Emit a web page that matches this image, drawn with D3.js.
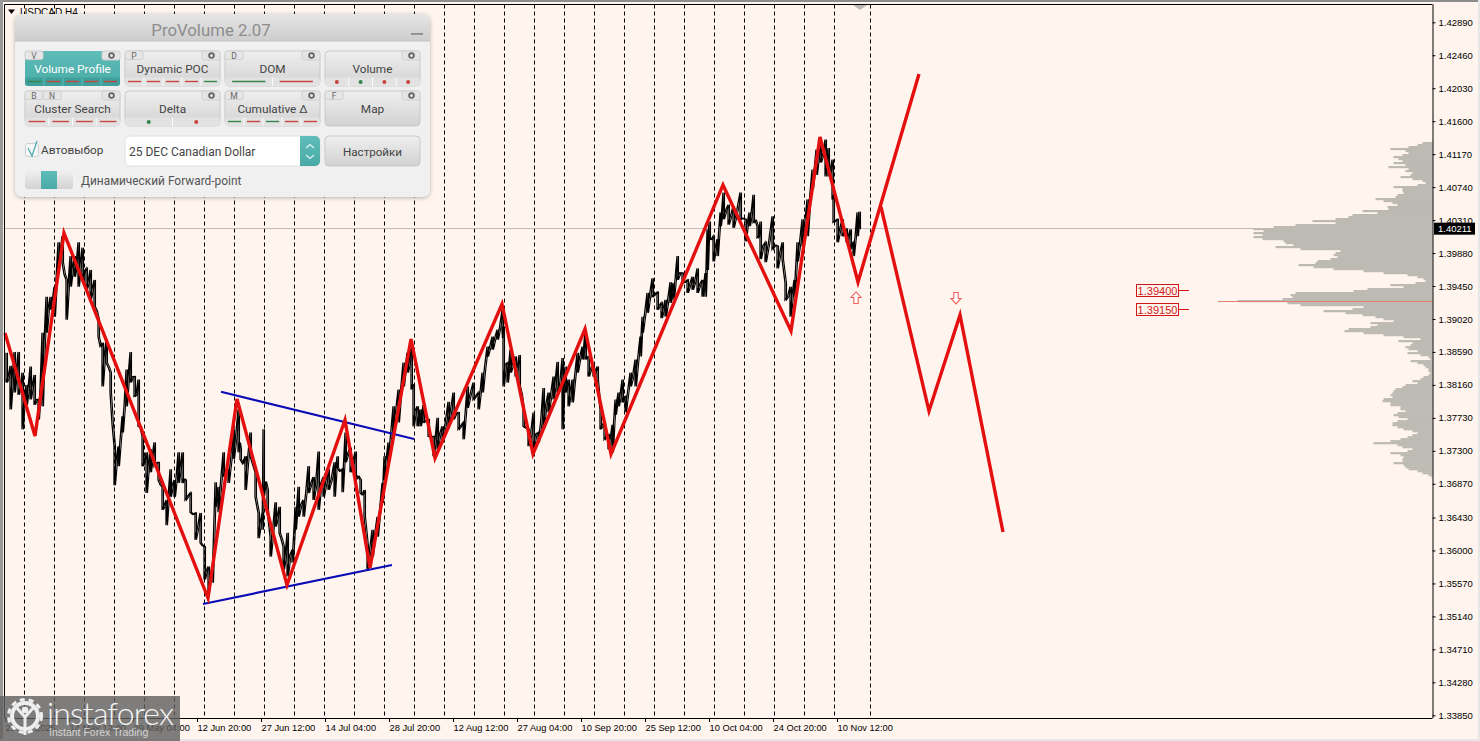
<!DOCTYPE html>
<html>
  <head>
    <title>USDCAD,H4</title>
    <script src="https://d3js.org/d3.v7.min.js"></script>
    <style>
      body { margin: 0; background: #fff5ee; overflow: hidden; }
      text { font-family: "Liberation Sans", Arial, sans-serif; }
      .panel text { font-family: Roboto, sans-serif; }
    </style>
  </head>
  <body>
    <svg width="1480" height="741" id="mainsvg" style="display: block;"></svg>
    <script>
      const priceTicks = [1.42890, 1.42460, 1.42030, 1.41600, 1.41170, 1.40740, 1.40310, 1.39880, 1.39450, 1.39020, 1.38590,
        1.38160, 1.37730, 1.37300, 1.36870, 1.36430, 1.36000, 1.35570, 1.35140, 1.34710, 1.34280, 1.33850];
      const timeTickBars = [0, 64, 128, 192, 256, 320, 384, 448, 512, 576, 640, 704, 768, 832];
      const timeTickLabels = ['29 Apr 2025', '14 May 12:00', '29 May 04:00', '12 Jun 20:00', '27 Jun 12:00', '14 Jul 04:00', '28 Jul 20:00',
        '12 Aug 12:00', '27 Aug 04:00', '10 Sep 20:00', '25 Sep 12:00', '10 Oct 04:00', '24 Oct 20:00', '10 Nov 12:00'];
      const separatorBars = [19, 49, 79, 109, 139, 169, 199, 229, 259, 289, 319, 349, 379, 409, 439, 469, 499, 529, 559, 589, 619, 649, 679, 709, 739, 769, 799, 829, 865];

      // price band, bar number / high / low
      const bars = [1, 5, 9, 13, 17, 21, 25, 29, 33, 37, 41, 45, 49, 53, 57, 61, 65, 69, 73, 77, 81, 85, 89, 93, 97, 101, 105, 109, 113, 117, 121, 125, 129, 133, 137, 141, 145, 149, 153, 157, 161, 165, 169, 173,
        177, 180, 185, 190, 195, 199, 203, 207, 210, 213, 218, 223, 228, 233, 235, 240, 245, 250, 253, 257, 258, 262, 265, 270, 274, 278, 282, 287, 290, 293, 298, 303, 308, 313, 318, 323, 329, 332, 337, 340, 345, 350, 355, 359, 362, 367, 372, 377, 379, 383, 388, 393, 398, 402, 406, 408, 412, 415, 418, 423, 428, 432, 437, 443, 448, 453, 458, 462, 468, 473, 477, 482, 487, 492, 497, 498, 502, 505, 510, 514, 518, 523, 528, 533, 538, 543, 548, 552, 557, 560, 563, 567, 572, 577, 580, 583, 588, 592, 595, 599, 603, 607, 610, 613, 617, 620, 625, 630, 635, 637, 642, 647, 652, 656, 660, 665, 668, 672, 677, 682, 687, 692, 697, 700, 702, 704, 708, 712, 715, 718, 723, 728, 735, 740, 744, 748, 752, 755, 760, 767, 772, 777, 780, 785, 789, 792, 797, 802, 807, 811, 815, 820, 823, 827, 828, 832, 837, 841, 845, 848, 852, 854];
      const highs = [1.3858, 1.3841, 1.3859, 1.3859, 1.3832, 1.3816, 1.3840, 1.3829, 1.3797, 1.3884, 1.3931, 1.3931, 1.3944, 1.4002, 1.4010, 1.3953, 1.3984, 1.3984, 1.4002, 1.3995, 1.3968, 1.3966, 1.3953, 1.3901, 1.3871, 1.3875, 1.3832, 1.3736, 1.3736, 1.3775, 1.3836, 1.3859, 1.3827, 1.3823, 1.3749, 1.3728, 1.3732, 1.3741, 1.3715, 1.3683, 1.3666, 1.3706, 1.3692, 1.3728,
        1.3728, 1.3692, 1.3675, 1.3649, 1.3649, 1.3605, 1.3579, 1.3579, 1.3689, 1.3683, 1.3728, 1.3706, 1.3758, 1.3784, 1.3732, 1.3723, 1.3754, 1.3702, 1.3649, 1.3649, 1.3758, 1.3679, 1.3618, 1.3663, 1.3657, 1.3605, 1.3623, 1.3601, 1.3657, 1.3683, 1.3666, 1.3710, 1.3696, 1.3729, 1.3696, 1.3706, 1.3715, 1.3723, 1.3706, 1.3754, 1.3734, 1.3729, 1.3692, 1.3679, 1.3605, 1.3627, 1.3644, 1.3688, 1.3723, 1.3741, 1.3788, 1.3810, 1.3845, 1.3858, 1.3875, 1.3816, 1.3788, 1.3784, 1.3790, 1.3771, 1.3749, 1.3773, 1.3762, 1.3794, 1.3806, 1.3780, 1.3767, 1.3814, 1.3819, 1.3806, 1.3832, 1.3866, 1.3879, 1.3888, 1.3914, 1.3892, 1.3845, 1.3862, 1.3853, 1.3855, 1.3784, 1.3758, 1.3780, 1.3754, 1.3812, 1.3806, 1.3827, 1.3846, 1.3851, 1.3840, 1.3823, 1.3823, 1.3858, 1.3866, 1.3888, 1.3849, 1.3845, 1.3840, 1.3784, 1.3767, 1.3751, 1.3764, 1.3797, 1.3806, 1.3823, 1.3801, 1.3832, 1.3849, 1.3879, 1.3905, 1.3936, 1.3955, 1.3937, 1.3923, 1.3927, 1.3950, 1.3949, 1.3984, 1.3962, 1.3953, 1.3957, 1.3968, 1.3953, 1.3962, 1.4019, 1.4029, 1.4010, 1.4006, 1.4041, 1.4067, 1.4051, 1.4049, 1.4067, 1.4032, 1.4041, 1.4064, 1.4023, 1.4029, 1.4002, 1.4036, 1.3997, 1.4002, 1.3949, 1.3944, 1.3953, 1.4002, 1.4032, 1.4058, 1.4097, 1.4123, 1.4132, 1.4136, 1.4125, 1.4110, 1.4058, 1.4032, 1.4032, 1.4019, 1.4019, 1.4002, 1.4041, 1.4042];
      const lows = [1.3819, 1.3784, 1.3806, 1.3803, 1.3758, 1.3790, 1.3797, 1.3790, 1.3771, 1.3788, 1.3884, 1.3914, 1.3905, 1.3966, 1.3976, 1.3901, 1.3944, 1.3957, 1.3944, 1.3953, 1.3940, 1.3927, 1.3918, 1.3879, 1.3814, 1.3845, 1.3806, 1.3685, 1.3710, 1.3754, 1.3788, 1.3819, 1.3801, 1.3762, 1.3710, 1.3675, 1.3702, 1.3710, 1.3692, 1.3653, 1.3633, 1.3670, 1.3670, 1.3688,
        1.3688, 1.3666, 1.3650, 1.3614, 1.3610, 1.3562, 1.3545, 1.3558, 1.3657, 1.3650, 1.3696, 1.3688, 1.3719, 1.3728, 1.3719, 1.3679, 1.3723, 1.3670, 1.3616, 1.3627, 1.3670, 1.3653, 1.3592, 1.3631, 1.3623, 1.3575, 1.3566, 1.3584, 1.3627, 1.3644, 1.3644, 1.3675, 1.3666, 1.3653, 1.3670, 1.3679, 1.3670, 1.3708, 1.3676, 1.3715, 1.3702, 1.3692, 1.3675, 1.3644, 1.3575, 1.3592, 1.3618, 1.3662, 1.3692, 1.3715, 1.3758, 1.3767, 1.3814, 1.3832, 1.3810, 1.3762, 1.3762, 1.3762, 1.3767, 1.3749, 1.3723, 1.3732, 1.3741, 1.3762, 1.3771, 1.3758, 1.3745, 1.3786, 1.3797, 1.3784, 1.3806, 1.3853, 1.3862, 1.3875, 1.3888, 1.3814, 1.3819, 1.3832, 1.3827, 1.3814, 1.3762, 1.3736, 1.3732, 1.3741, 1.3758, 1.3780, 1.3797, 1.3806, 1.3758, 1.3806, 1.3788, 1.3793, 1.3832, 1.3849, 1.3849, 1.3827, 1.3827, 1.3823, 1.3758, 1.3745, 1.3732, 1.3728, 1.3777, 1.3788, 1.3793, 1.3780, 1.3814, 1.3814, 1.3853, 1.3884, 1.3910, 1.3931, 1.3914, 1.3903, 1.3905, 1.3923, 1.3927, 1.3953, 1.3949, 1.3936, 1.3940, 1.3936, 1.3931, 1.3931, 1.3966, 1.4006, 1.3977, 1.3984, 1.4023, 1.4032, 1.4025, 1.4021, 1.4032, 1.4003, 1.4023, 1.4028, 1.4008, 1.3980, 1.3976, 1.3993, 1.3968, 1.3980, 1.3927, 1.3905, 1.3931, 1.3977, 1.3997, 1.4010, 1.4071, 1.4090, 1.4106, 1.4088, 1.4088, 1.4058, 1.4028, 1.4002, 1.4010, 1.4002, 1.3993, 1.3984, 1.4010, 1.4019];

      // red zigzag, blue trend lines, forecast
      const zigzagBars = [0, 30, 59, 203, 232, 282, 340, 365, 406, 430, 497, 528, 580, 606, 718, 786, 815, 853, 914];
      const zigzagPrices = [1.38837, 1.37493, 1.40141, 1.35380, 1.37976, 1.35550, 1.37702, 1.35771, 1.38759, 1.37206, 1.39215, 1.37259, 1.38889, 1.37259, 1.40768, 1.38863, 1.41394, 1.39502, 1.42216];
      const forecastBars = [876, 924, 955, 998];
      const forecastPrices = [1.40481, 1.37819, 1.39072, 1.36241];
      const upperTrendBars = [216, 409];
      const upperTrendPrices = [1.38071, 1.37454];
      const lowerTrendBars = [198, 387];
      const lowerTrendPrices = [1.35302, 1.35811];

      // volume profile, one value per price level from the top down
      const profileTopPrice = 1.41316;
      const profileStep = 0.000261;
      const profileVolumes = [10, 15, 24, 42, 27, 24, 30, 39, 34, 30, 39, 27, 44, 24, 27, 20, 22, 32, 20, 10, 7, 15, 39, 30, 30, 29, 35, 37, 57, 49, 40, 35, 45, 44, 70, 55, 80, 84, 97, 120, 97, 137, 159, 179, 169, 179, 170, 179, 170, 149, 147, 139, 157, 132, 92, 97, 99, 95, 102, 115, 117, 134, 119, 99, 69, 49, 25, 15, 9, 7, 17, 42, 29, 65, 79, 137, 142, 140, 150, 195, 145, 132, 69, 80, 109, 87, 70, 57, 49, 39, 62, 55, 62, 84, 88, 69, 49, 29, 12, 34, 20, 22, 27, 24, 15, 25, 12, 4, 2, 22, 15, 9, 7, 4, 4, 2, 4, 9, 12, 20, 15, 27, 30, 37, 39, 40, 42, 40, 49, 50, 42, 42, 32, 32, 27, 35, 39, 34, 25, 35, 40, 40, 35, 29, 20, 15, 20, 25, 32, 42, 59, 35, 30, 20, 25, 42, 32, 29, 30, 30, 39, 29, 27, 24, 15, 10, 4, 1];
      const pocPrice = 1.39254;
      const bidPrice = 1.40211;

      const levelPrices = [1.39400, 1.39150];
      const arrowUpBar = 851;
      const arrowDownBar = 951;
      const arrowPrice = 1.39294;

      // ProVolume panel
      const panelRows = [
        [{name: 'Volume Profile', keys: ['V'], marks: 'grrrr', active: true}, {name: 'Dynamic POC', keys: ['P'], marks: 'rrrrg'}, {name: 'DOM', keys: ['D'], marks: 'gr'}, {name: 'Volume', keys: [], dots: 'rgrr'}],
        [{name: 'Cluster Search', keys: ['B', 'N'], marks: 'rrrr'}, {name: 'Delta', keys: [], dots: 'gr'}, {name: 'Cumulative Δ', keys: ['M'], marks: 'grgrr'}, {name: 'Map', keys: ['F']}]
      ];

      const svg = d3.select('#mainsvg');
      const bg = '#fff5ee';
      const margin = {top: 4.5, right: 47.5, bottom: 23, left: 4.5};
      const width = +svg.attr('width');
      const height = +svg.attr('height');

      svg.append('rect').attr('width', width).attr('height', height).attr('fill', bg);
      svg.append('rect').attr('width', width).attr('height', 2).attr('fill', '#8c8c8c');
      svg.append('rect').attr('width', 3).attr('height', height).attr('fill', '#9a9a9a');
      svg.append('rect').attr('y', height - 2).attr('width', width).attr('height', 2).attr('fill', '#e6e6e6');
      svg.append('rect').attr('x', width - 2).attr('width', 2).attr('height', height).attr('fill', '#e6e6e6');

      const xScale = d3.scaleLinear().domain([0, 1428]).range([5, 1433]);
      const yScale = d3.scaleLinear().domain([1.42890, 1.33850]).range([22.3, 715.3]);
      const right = width - margin.right;
      const bottom = height - margin.bottom;

      // separators
      svg.append('g').selectAll('line').data(separatorBars).join('line')
        .attr('x1', d => xScale(d) + 0.5).attr('x2', d => xScale(d) + 0.5)
        .attr('y1', margin.top).attr('y2', bottom)
        .attr('stroke', '#000').attr('stroke-dasharray', '4,3');

      // volume profile
      const volumeScale = d3.scaleLinear().domain([0, 195]).range([0, 195]);
      svg.append('g').selectAll('rect').data(profileVolumes).join('rect')
        .attr('x', d => right - volumeScale(d))
        .attr('y', (d, i) => yScale(profileTopPrice - i * profileStep) - 1)
        .attr('width', d => volumeScale(d))
        .attr('height', 2.2)
        .attr('fill', '#bcbab3');

      // bid and poc lines
      svg.append('line').attr('x1', margin.left).attr('x2', right)
        .attr('y1', Math.round(yScale(bidPrice)) + 0.5).attr('y2', Math.round(yScale(bidPrice)) + 0.5)
        .attr('stroke', '#c4bab5');
      svg.append('line').attr('x1', xScale(1213)).attr('x2', right)
        .attr('y1', Math.round(yScale(pocPrice)) + 0.5).attr('y2', Math.round(yScale(pocPrice)) + 0.5)
        .attr('stroke', '#e07f72');

      // price band: runs down each bar, then on to the next bar's high
      const bandPath = d3.path();
      bars.forEach((d, i) => {
        const x = xScale(d);
        if (i === 0) bandPath.moveTo(x, yScale(highs[i]));
        else bandPath.lineTo(x, yScale(highs[i]));
        bandPath.lineTo(x, yScale(lows[i]));
        if (i < bars.length - 1) bandPath.lineTo((x + xScale(bars[i + 1])) / 2, yScale((highs[i] + highs[i + 1] + lows[i + 1] + lows[i]) / 4));
      });
      svg.append('path').attr('d', bandPath.toString()).attr('fill', 'none').attr('stroke', '#000').attr('stroke-width', 1.3);
      svg.append('path').attr('d', bandPath.toString()).attr('fill', 'none').attr('stroke', '#000').attr('stroke-width', 1.1).attr('transform', 'translate(1.5, 0)');

      // trend lines and zigzags
      function polyline(xs, ys, color, w) {
        const line = d3.line().x(d => xScale(d)).y((d, i) => yScale(ys[i]));
        svg.append('path').attr('d', line(xs)).attr('fill', 'none').attr('stroke', color).attr('stroke-width', w).attr('stroke-linejoin', 'miter');
      }
      polyline(upperTrendBars, upperTrendPrices, '#0b0bb8', 2.2);
      polyline(lowerTrendBars, lowerTrendPrices, '#0b0bb8', 2.2);
      polyline(zigzagBars, zigzagPrices, '#e41010', 3.4);
      polyline(forecastBars, forecastPrices, '#e41010', 3.4);

      // hollow arrows
      function arrow(bar, dir) {
        const cx = xScale(bar), cy = yScale(arrowPrice);
        const s = dir;
        svg.append('path')
          .attr('d', `M${cx},${cy - 6 * s}L${cx + 5},${cy - 0.5 * s}L${cx + 2.2},${cy - 0.5 * s}L${cx + 2.2},${cy + 5.5 * s}L${cx - 2.2},${cy + 5.5 * s}L${cx - 2.2},${cy - 0.5 * s}L${cx - 5},${cy - 0.5 * s}Z`)
          .attr('fill', '#fff').attr('stroke', '#f0615a').attr('stroke-width', 1.1);
      }
      arrow(arrowUpBar, 1);
      arrow(arrowDownBar, -1);

      // price level labels
      const levelGroup = svg.append('g').selectAll('g').data(levelPrices).join('g')
        .attr('transform', d => `translate(0, ${Math.round(yScale(d)) + 0.5})`);
      levelGroup.append('rect').attr('x', 1136.5).attr('y', -6).attr('width', 42).attr('height', 12)
        .attr('fill', 'none').attr('stroke', '#d01818');
      levelGroup.append('line').attr('x1', 1178.5).attr('x2', 1189).attr('stroke', '#d01818');
      levelGroup.append('text').attr('x', 1157.5).attr('y', 4).attr('text-anchor', 'middle')
        .attr('font-size', 11).attr('fill', '#d01818').text(d => d3.format('.5f')(d));

      // frame and axes
      svg.append('path').attr('d', `M${margin.left},${bottom}V${margin.top}H${right}`).attr('fill', 'none').attr('stroke', '#000');

      const yAxis = d3.axisRight(yScale).tickValues(priceTicks).tickSize(3).tickSizeOuter(0).tickFormat(d3.format('.5f'));
      const yAxisGroup = svg.append('g').attr('transform', `translate(${right}, 0)`).call(yAxis);
      yAxisGroup.select('.domain').attr('d', `M0.5,${margin.top}V${bottom}`);
      yAxisGroup.selectAll('text').attr('x', 6).attr('font-size', 9.5).attr('fill', '#000').style('font-family', '"Liberation Sans", Arial, sans-serif');

      const xAxis = d3.axisBottom(xScale).tickValues(timeTickBars).tickSize(4).tickSizeOuter(0)
        .tickFormat(d => timeTickLabels[timeTickBars.indexOf(d)]);
      const xAxisGroup = svg.append('g').attr('transform', `translate(0, ${bottom})`).call(xAxis);
      xAxisGroup.select('.domain').attr('d', `M${margin.left},0.5H${right}`);
      xAxisGroup.selectAll('text').attr('text-anchor', 'start').attr('y', 6.5).attr('font-size', 9.3).attr('fill', '#000').style('font-family', '"Liberation Sans", Arial, sans-serif');

      // current price tag
      const tagY = yScale(bidPrice);
      svg.append('rect').attr('x', 1434).attr('y', tagY - 5).attr('width', 41).attr('height', 12).attr('fill', '#000');
      svg.append('text').attr('x', 1438).attr('y', tagY + 4.5).attr('font-size', 9.5).attr('fill', '#fff').text(d3.format('.5f')(bidPrice));

      // symbol and shift marker
      svg.append('path').attr('d', 'M8,9.5H15L11.5,14Z').attr('fill', '#000');
      svg.append('text').attr('x', 20).attr('y', 16).attr('font-size', 10).attr('fill', '#000').text('USDCAD,H4');
      svg.append('path').attr('d', 'M853,5H867L860,10Z').attr('fill', '#bdbab6');

      // ---------- panel ----------
      const defs = svg.append('defs');
      const blur = defs.append('filter').attr('id', 'panelShadow').attr('x', '-5%').attr('y', '-5%').attr('width', '110%').attr('height', '115%');
      blur.append('feDropShadow').attr('dx', 0).attr('dy', 1).attr('stdDeviation', 2).attr('flood-color', '#777').attr('flood-opacity', 0.55);
      function gradient(id, top, low) {
        const g = defs.append('linearGradient').attr('id', id).attr('x1', 0).attr('y1', 0).attr('x2', 0).attr('y2', 1);
        g.append('stop').attr('offset', 0).attr('stop-color', top);
        g.append('stop').attr('offset', 1).attr('stop-color', low);
      }
      gradient('btn', '#efefef', '#d2d2d2');
      gradient('title', '#e6e6e6', '#cdcdcd');
      gradient('teal', '#60bdb9', '#48aaa6');

      const panel = svg.append('g').attr('class', 'panel');
      panel.append('rect').attr('x', 15).attr('y', 14).attr('width', 415).attr('height', 183).attr('rx', 7)
        .attr('fill', '#f0f0f0').attr('filter', 'url(#panelShadow)');
      panel.append('path').attr('d', 'M15,41V21a7,7 0 0 1 7,-7H423a7,7 0 0 1 7,7V41Z').attr('fill', 'url(#title)');
      panel.append('line').attr('x1', 15).attr('x2', 430).attr('y1', 41).attr('y2', 41).attr('stroke', '#c4c4c4');
      panel.append('text').attr('x', 211).attr('y', 35.5).attr('text-anchor', 'middle').attr('font-size', 16.8).attr('fill', '#8d8d8d').text('ProVolume 2.07');
      panel.append('rect').attr('x', 411).attr('y', 33).attr('width', 12).attr('height', 1.8).attr('fill', '#8d8d8d');

      const ink = {r: '#c8453f', g: '#33854c'};
      panelRows.forEach((row, r) => row.forEach((b, c) => {
        const x = 25 + c * 100, y = 51 + r * 40, w = 95, h = 35;
        const g = panel.append('g').attr('transform', `translate(${x}, ${y})`);
        g.append('rect').attr('width', w).attr('height', h).attr('rx', 4)
          .attr('fill', b.active ? 'url(#teal)' : 'url(#btn)').attr('stroke', b.active ? 'none' : '#c9c9c9');
        g.append('text').attr('x', w / 2).attr('y', 22).attr('text-anchor', 'middle').attr('font-size', 11.8)
          .attr('fill', b.active ? '#fff' : '#444').text(b.name);
        // key tabs and gear
        b.keys.forEach((k, i) => {
          g.append('rect').attr('x', i * 18).attr('y', 0).attr('width', 18).attr('height', 8.5).attr('rx', 2)
            .attr('fill', '#e6e6e6').attr('stroke', '#cfcfcf');
          g.append('text').attr('x', 9 + i * 18).attr('y', 7.5).attr('text-anchor', 'middle').attr('font-size', 8.5).attr('fill', '#666').text(k);
        });
        g.append('rect').attr('x', w - 18).attr('y', 0).attr('width', 18).attr('height', 9).attr('rx', 2).attr('fill', '#e4e4e4').attr('stroke', '#cfcfcf');
        g.append('circle').attr('cx', w - 8.5).attr('cy', 4.5).attr('r', 2.4).attr('fill', 'none').attr('stroke', '#666').attr('stroke-width', 1.8);
        // bottom strip
        const list = b.dots || b.marks;
        if (!list) return;
        const cell = w / list.length;
        g.append('rect').attr('y', h - 8.5).attr('width', w).attr('height', 8.5).attr('rx', 3)
          .attr('fill', b.active ? '#3f9f9b' : '#e2e2e2');
        list.split('').forEach((m, i) => {
          if (i > 0) g.append('line').attr('x1', i * cell).attr('x2', i * cell).attr('y1', h - 8.5).attr('y2', h)
            .attr('stroke', b.active ? '#62b8b4' : '#fafafa');
          if (b.dots) {
            g.append('circle').attr('cx', (i + 0.5) * cell).attr('cy', h - 4).attr('r', 2).attr('fill', ink[m]);
          } else {
            g.append('line').attr('x1', i * cell + cell * 0.15).attr('x2', (i + 1) * cell - cell * 0.15)
              .attr('y1', h - 4.5).attr('y2', h - 4.5).attr('stroke', ink[m]).attr('stroke-width', 1.4);
          }
        });
      }));

      // checkbox
      panel.append('rect').attr('x', 25.5).attr('y', 143.5).attr('width', 13).attr('height', 13).attr('rx', 2).attr('fill', '#f6f6f6').attr('stroke', '#d0d0d0');
      panel.append('path').attr('d', 'M28,148L32,156L37,141').attr('fill', 'none').attr('stroke', '#4fb3af').attr('stroke-width', 1.3);
      panel.append('text').attr('x', 41).attr('y', 154).attr('font-size', 11.8).attr('fill', '#444').text('Автовыбор');

      // combo box
      panel.append('rect').attr('x', 125).attr('y', 136).attr('width', 195).attr('height', 30).attr('rx', 5).attr('fill', '#fff').attr('stroke', '#e2e2e2');
      panel.append('path').attr('d', 'M300,136H315a5,5 0 0 1 5,5V161a5,5 0 0 1 -5,5H300Z').attr('fill', 'url(#teal)');
      panel.append('path').attr('d', 'M306,148L310,144.5L314,148M306,155L310,158.5L314,155').attr('fill', 'none').attr('stroke', '#e3f3f2').attr('stroke-width', 1.1);
      panel.append('text').attr('x', 129).attr('y', 156).attr('font-size', 12).attr('fill', '#444').text('25 DEC Canadian Dollar');

      panel.append('rect').attr('x', 325).attr('y', 136).attr('width', 95).attr('height', 30).attr('rx', 4).attr('fill', 'url(#btn)').attr('stroke', '#c9c9c9');
      panel.append('text').attr('x', 372.5).attr('y', 156).attr('text-anchor', 'middle').attr('font-size', 11.6).attr('fill', '#444').text('Настройки');

      // toggle
      panel.append('rect').attr('x', 25).attr('y', 171).attr('width', 48).attr('height', 18).attr('rx', 3).attr('fill', 'url(#btn)');
      panel.append('rect').attr('x', 41).attr('y', 171).attr('width', 16).attr('height', 18).attr('fill', 'url(#teal)');
      panel.append('text').attr('x', 81).attr('y', 185).attr('font-size', 11.9).attr('fill', '#555').text('Динамический Forward-point');

      // ---------- watermark ----------
      const mark = svg.append('g');
      mark.append('rect').attr('x', 0).attr('y', 696).attr('width', 180).attr('height', 45).attr('fill', '#5f5f5f').attr('fill-opacity', 0.8);
      mark.append('circle').attr('cx', 25).attr('cy', 716).attr('r', 13).attr('fill', 'none').attr('stroke', '#eee').attr('stroke-width', 4);
      mark.append('circle').attr('cx', 25).attr('cy', 716).attr('r', 16.5).attr('fill', 'none').attr('stroke', '#eee').attr('stroke-width', 3).attr('stroke-dasharray', '5,4');
      mark.append('path').attr('d', 'M25,735V715M16,707L25,717L34,707').attr('fill', 'none').attr('stroke', '#eee').attr('stroke-width', 3);
      mark.append('circle').attr('cx', 25).attr('cy', 710).attr('r', 3.2).attr('fill', '#eee');
      mark.append('text').attr('x', 47).attr('y', 725).attr('font-size', 32).attr('fill', '#f4f4f4')
        .attr('textLength', 127).style('font-family', 'Lato, sans-serif').style('font-weight', 300).text('instaforex');
      mark.append('text').attr('x', 49).attr('y', 736).attr('font-size', 10.5).attr('fill', '#d4d4d4').text('Instant Forex Trading');
    </script>
  </body>
</html>
